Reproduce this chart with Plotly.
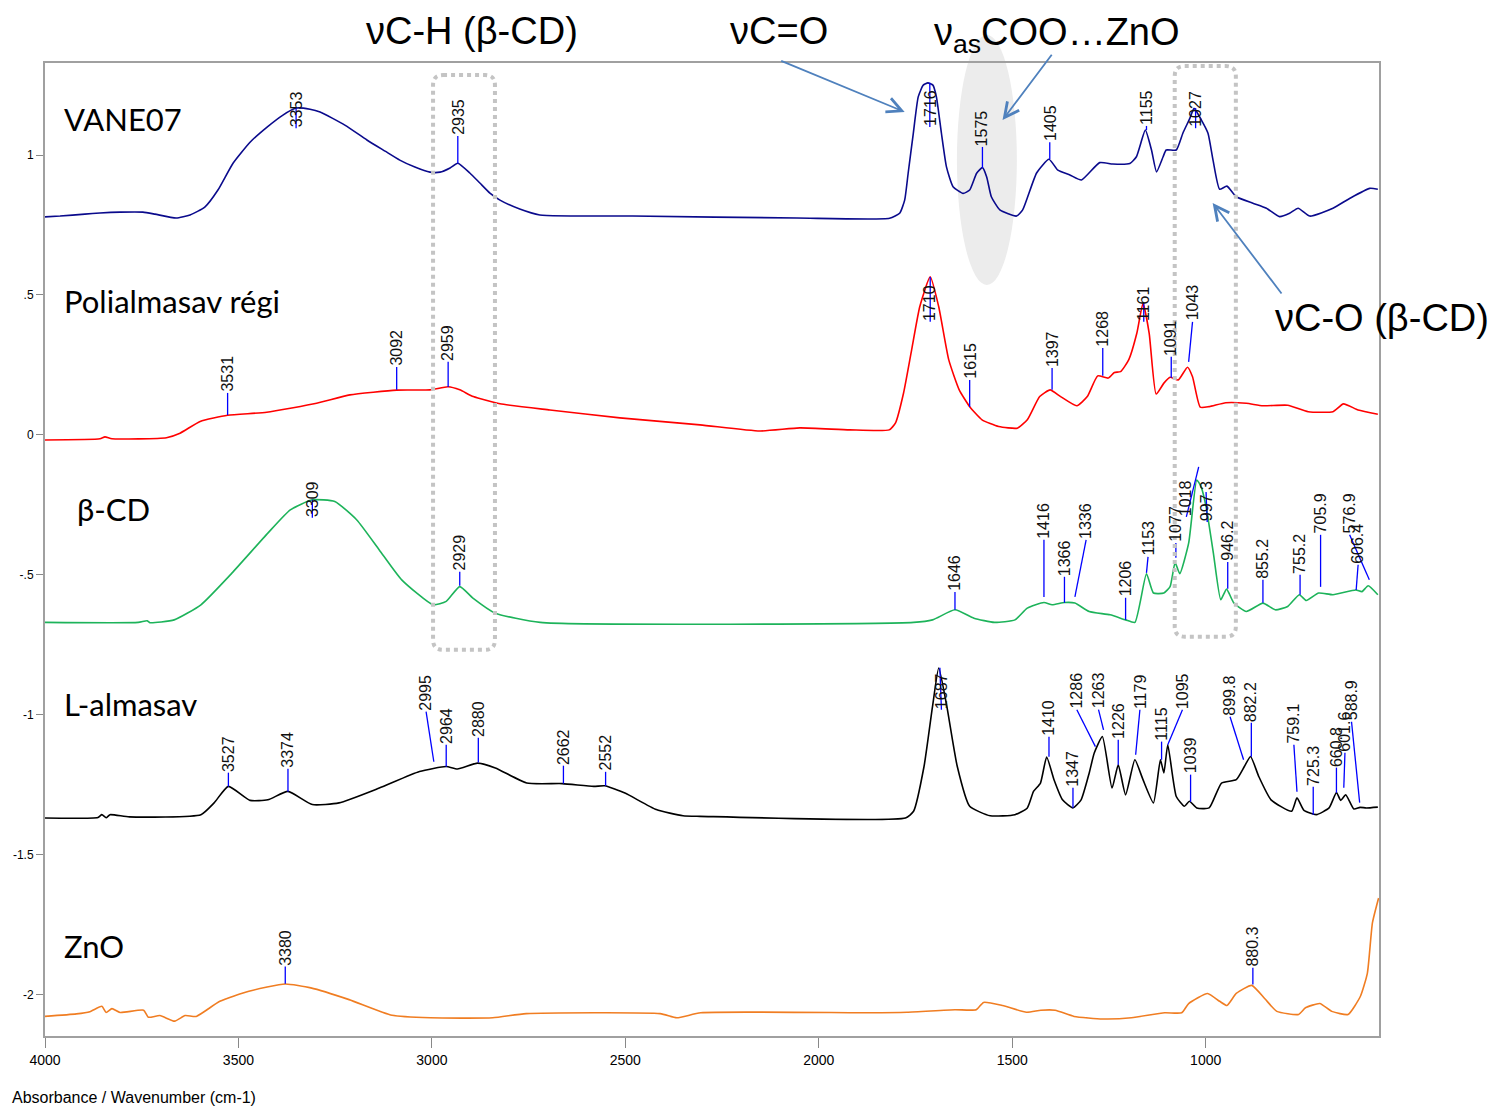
import plotly.graph_objects as go

# ---------------- data (wavenumber cm-1, absorbance) ----------------
vane_x = [4000,3961,3897,3858,3806,3747,3716,3661,3625,3587,3553,3514,3470,3426,3385,3351,3315,3289,3225,3168,
          3121,3083,3044,3005,2979,2953,2933,2902,2876,2850,2824,2773,2721,2481,2057,1817,1791,1778,1769,1756,
          1743,1730,1718,1705,1696,1683,1670,1653,1627,1610,1592,1577,1566,1554,1532,1489,1473,1437,1405,1382,
          1351,1321,1274,1240,1196,1179,1156,1140,1127,1110,1102,1076,1059,1041,1030,1011,994,981,964,945,
          921,878,843,809,783,761,731,671,628,576,555]
vane_y = [0.779,0.782,0.789,0.793,0.796,0.796,0.789,0.775,0.786,0.814,0.875,0.971,1.046,1.100,1.143,1.168,1.164,1.154,1.107,1.054,
          1.014,0.982,0.957,0.939,0.939,0.954,0.971,0.936,0.900,0.864,0.839,0.807,0.786,0.782,0.775,0.774,0.792,0.839,0.935,1.074,
          1.208,1.250,1.258,1.250,1.208,1.078,0.958,0.887,0.863,0.875,0.935,0.955,0.922,0.851,0.804,0.782,0.804,0.936,0.985,0.946,
          0.929,0.911,0.973,0.968,0.970,0.994,1.089,1.018,0.940,0.994,1.018,1.018,1.078,1.131,1.167,1.125,1.078,0.982,0.878,0.889,
          0.851,0.828,0.810,0.780,0.792,0.810,0.782,0.810,0.845,0.881,0.878]

poli_x = [4000,3858,3845,3827,3686,3651,3599,3528,3427,3298,3212,3091,3005,2958,2928,2893,2824,2695,2514,2307,
          2152,2049,1920,1818,1802,1781,1760,1739,1712,1690,1664,1637,1610,1578,1535,1487,1461,1429,1402,1375,
          1333,1306,1279,1252,1236,1220,1199,1178,1162,1146,1128,1108,1092,1071,1047,1034,1014,991,948,895,
          852,788,735,671,644,606,555]
poli_y = [-0.018,-0.014,-0.007,-0.014,-0.010,0.006,0.048,0.070,0.081,0.113,0.143,0.160,0.161,0.172,0.161,0.137,0.111,0.089,0.061,0.036,
          0.014,0.025,0.018,0.018,0.042,0.149,0.304,0.458,0.565,0.458,0.268,0.161,0.101,0.054,0.030,0.024,0.054,0.137,0.161,0.137,
          0.104,0.137,0.211,0.203,0.223,0.226,0.268,0.363,0.470,0.363,0.146,0.185,0.206,0.196,0.242,0.208,0.099,0.101,0.115,0.113,
          0.104,0.106,0.083,0.083,0.111,0.089,0.074]

bcd_x = [4000,3759,3736,3729,3666,3597,3517,3424,3366,3309,3251,3194,3136,3078,2997,2963,2928,2894,2836,2720,
         1755,1706,1648,1599,1546,1493,1461,1418,1397,1365,1338,1301,1247,1207,1183,1153,1135,1108,1092,1079,
         1067,1044,1023,1012,999,980,961,946,927,895,852,820,788,758,740,708,671,612,596,580,555]
bcd_y = [-0.670,-0.670,-0.664,-0.671,-0.661,-0.607,-0.494,-0.351,-0.268,-0.232,-0.238,-0.304,-0.411,-0.518,-0.607,-0.595,-0.542,-0.583,-0.637,-0.670,
         -0.670,-0.661,-0.625,-0.655,-0.670,-0.661,-0.619,-0.599,-0.607,-0.599,-0.601,-0.631,-0.643,-0.661,-0.670,-0.496,-0.565,-0.565,-0.542,-0.456,
         -0.496,-0.387,-0.161,-0.185,-0.256,-0.423,-0.589,-0.551,-0.601,-0.631,-0.601,-0.625,-0.613,-0.571,-0.592,-0.565,-0.571,-0.554,-0.560,-0.539,
         -0.571]

lalm_x = [4000,3863,3853,3842,3832,3782,3597,3563,3526,3470,3424,3372,3309,3240,3136,3032,2963,2934,2882,2836,
          2755,2663,2582,2553,2501,2420,2351,2307,1776,1755,1728,1706,1690,1669,1642,1610,1557,1493,1461,1445,
          1427,1411,1392,1370,1343,1322,1301,1288,1267,1242,1226,1207,1183,1162,1135,1117,1108,1098,1076,1055,
          1042,1023,991,959,921,900,884,863,831,778,764,746,714,681,662,651,638,617,601,585,555]
lalm_y = [-1.369,-1.367,-1.357,-1.368,-1.357,-1.365,-1.357,-1.315,-1.256,-1.306,-1.304,-1.274,-1.321,-1.315,-1.262,-1.203,-1.185,-1.194,-1.173,-1.190,
          -1.244,-1.246,-1.256,-1.254,-1.280,-1.339,-1.361,-1.363,-1.369,-1.345,-1.185,-0.970,-0.833,-0.970,-1.185,-1.327,-1.361,-1.357,-1.333,-1.274,
          -1.244,-1.151,-1.232,-1.304,-1.333,-1.304,-1.208,-1.137,-1.078,-1.262,-1.179,-1.286,-1.161,-1.232,-1.315,-1.161,-1.208,-1.107,-1.292,-1.327,
          -1.309,-1.333,-1.333,-1.244,-1.232,-1.185,-1.149,-1.220,-1.304,-1.345,-1.297,-1.342,-1.357,-1.333,-1.278,-1.306,-1.286,-1.337,-1.331,-1.333,
          -1.330]

zno_x = [4000,3919,3884,3853,3842,3827,3806,3745,3733,3703,3665,3638,3609,3548,3473,3379,3313,3214,3103,3004,
         2843,2756,2410,2367,2305,1870,1772,1648,1593,1574,1525,1463,1426,1389,1340,1266,1192,1106,1062,1044,
         995,964,945,921,881,847,816,760,742,705,674,632,600,582,569,553]
zno_y = [-2.078,-2.069,-2.061,-2.042,-2.064,-2.050,-2.064,-2.056,-2.081,-2.075,-2.095,-2.075,-2.078,-2.024,-1.988,-1.962,-1.976,-2.018,-2.074,-2.083,
         -2.083,-2.068,-2.068,-2.083,-2.065,-2.065,-2.063,-2.054,-2.054,-2.028,-2.039,-2.063,-2.056,-2.056,-2.078,-2.087,-2.083,-2.065,-2.065,-2.032,
         -1.996,-2.024,-2.039,-1.996,-1.967,-2.015,-2.060,-2.071,-2.047,-2.032,-2.060,-2.071,-2.006,-1.923,-1.744,-1.655]

# peak labels: (text, curve x, curve y, label x, label base y)
vane_peaks = [("3353", 3351, 1.168, 3351, 1.096), ("2935", 2933, 0.971, 2933, 1.068),
              ("1716", 1713, 1.258, 1713, 1.100), ("1575", 1577, 0.954, 1577, 1.029),
              ("1405", 1403, 0.986, 1403, 1.046), ("1155", 1153, 1.089, 1153, 1.104),
              ("1027", 1026, 1.168, 1026, 1.096)]
poli_peaks = [("3531", 3528, 0.071, 3528, 0.150), ("3092", 3091, 0.161, 3091, 0.243),
              ("2959", 2958, 0.171, 2958, 0.261), ("1710", 1712, 0.564, 1712, 0.404),
              ("1615", 1610, 0.100, 1610, 0.196), ("1397", 1397, 0.161, 1397, 0.239),
              ("1268", 1266, 0.211, 1266, 0.311), ("1161", 1160, 0.471, 1160, 0.404),
              ("1091", 1089, 0.204, 1089, 0.279), ("1043", 1044, 0.261, 1034, 0.404)]
bcd_peaks = [("3309", 3309, -0.232, 3309, -0.296), ("2929", 2928, -0.539, 2928, -0.489),
             ("1646", 1648, -0.625, 1648, -0.561), ("1416", 1418, -0.579, 1418, -0.375),
             ("1366", 1365, -0.600, 1365, -0.507), ("1336", 1338, -0.579, 1309, -0.375),
             ("1206", 1207, -0.661, 1207, -0.582), ("1153", 1153, -0.493, 1149, -0.436),
             ("1077", 1077, -0.439, 1077, -0.386), ("1018", 1018, -0.114, 1050, -0.293),
             ("997.3", 999, -0.204, 996, -0.311), ("946.2", 943, -0.550, 943, -0.454),
             ("855.2", 852, -0.600, 852, -0.518), ("755.2", 756, -0.571, 756, -0.500),
             ("705.9", 703, -0.543, 703, -0.357), ("576.9", 577, -0.518, 628, -0.357),
             ("606.4", 611, -0.554, 606, -0.464)]
lalm_peaks = [("3527", 3526, -1.257, 3526, -1.207), ("3374", 3372, -1.275, 3372, -1.193),
              ("2995", 2995, -1.168, 3015, -0.989), ("2964", 2963, -1.186, 2963, -1.107),
              ("2880", 2880, -1.171, 2880, -1.082), ("2662", 2660, -1.246, 2660, -1.182),
              ("2552", 2551, -1.254, 2551, -1.204), ("1687", 1687, -0.832, 1683, -0.982),
              ("1410", 1405, -1.150, 1405, -1.079), ("1347", 1343, -1.332, 1343, -1.261),
              ("1286", 1285, -1.114, 1333, -0.982), ("1263", 1264, -1.054, 1277, -0.982),
              ("1226", 1226, -1.179, 1226, -1.089), ("1179", 1181, -1.143, 1170, -0.982),
              ("1115", 1114, -1.161, 1114, -1.096), ("1095", 1098, -1.107, 1060, -0.982),
              ("1039", 1039, -1.311, 1039, -1.214), ("899.8", 902, -1.161, 937, -1.007),
              ("882.2", 882, -1.150, 882, -1.029), ("759.1", 764, -1.275, 772, -1.107),
              ("725.3", 722, -1.357, 722, -1.257), ("660.8", 662, -1.279, 662, -1.189),
              ("601.6", 643, -1.261, 640, -1.136), ("588.9", 602, -1.314, 623, -1.025)]
zno_peaks = [("3380", 3379, -1.961, 3379, -1.900), ("880.3", 878, -1.964, 878, -1.904)]

series_names = ["VANE07", "Polialmasav régi", "β-CD", "L-almasav", "ZnO"]
series_colors = ["#0a0a8c", "#ff0000", "#1db35a", "#000000", "#f07d22"]
name_pos = [(3956, 1.129), (3956, 0.479), (3922, -0.264), (3956, -0.961), (3956, -1.825)]

x_ticks = [4000, 3500, 3000, 2500, 2000, 1500, 1000]
y_ticks = [1, 0.5, 0, -0.5, -1, -1.5, -2]
y_ticktext = ["1", ".5", "0", "-.5", "-1", "-1.5", "-2"]

XR = [4000, 552]
YR = [-2.148, 1.329]

SANS = "Liberation Sans, Arial, sans-serif"


def xp(v):
    return (v - XR[0]) / (XR[1] - XR[0])


def yp(v):
    return (v - YR[0]) / (YR[1] - YR[0])


fig = go.Figure()
xs_all = [vane_x, poli_x, bcd_x, lalm_x, zno_x]
ys_all = [vane_y, poli_y, bcd_y, lalm_y, zno_y]
peaks_all = [vane_peaks, poli_peaks, bcd_peaks, lalm_peaks, zno_peaks]

for xs, ys, name, col in zip(xs_all, ys_all, series_names, series_colors):
    fig.add_trace(go.Scatter(x=xs, y=ys, mode="lines", name=name,
                             line=dict(color=col, width=1.6, shape="spline", smoothing=0.5),
                             hoverinfo="skip", showlegend=False))

# leader lines
lx, ly = [], []
for peaks in peaks_all:
    for t, px_, py_, bx, by in peaks:
        lx += [px_, bx, None]
        ly += [py_, by, None]
fig.add_trace(go.Scatter(x=lx, y=ly, mode="lines", line=dict(color="#0000ff", width=1.3),
                         hoverinfo="skip", showlegend=False))

annotations = []
for peaks in peaks_all:
    for t, px_, py_, bx, by in peaks:
        annotations.append(dict(x=xp(bx), y=yp(by), xref="paper", yref="paper", text=t, showarrow=False,
                                textangle=-90, xanchor="center", yanchor="bottom", borderpad=0,
                                font=dict(family=SANS, size=16, color="#111111")))

for name, (nx, ny) in zip(series_names, name_pos):
    annotations.append(dict(x=xp(nx), y=yp(ny), xref="paper", yref="paper", text=name, showarrow=False,
                            xanchor="left", yanchor="middle",
                            font=dict(family="Lato, Open Sans, sans-serif", size=31, color="#000000")))

# band annotations
big = dict(family=SANS, size=38, color="#000000")
for txt, bx, by in [("νC-H (β-CD)", 2897, 1.443), ("νC=O", 2103, 1.443),
                    ("ν<sub>as</sub>COO…ZnO", 1385, 1.430), ("νC-O (β-CD)", 545, 0.418)]:
    annotations.append(dict(x=xp(bx), y=yp(by), xref="paper", yref="paper", text=txt, showarrow=False,
                            xanchor="center", yanchor="middle", font=big))

# arrows (head inside the axes, tail given in data units)
arrow_col = "#4f81bd"
for (hx, hy, tx, ty) in [(1778, 1.154, 2101, 1.339), (1525, 1.125, 1395, 1.364), (982, 0.829, 801, 0.500)]:
    annotations.append(dict(x=hx, y=hy, ax=tx, ay=ty, xref="x", yref="y", axref="x", ayref="y",
                            text="", showarrow=True, arrowhead=5, arrowsize=1.6, arrowwidth=1.8,
                            arrowcolor=arrow_col))

annotations.append(dict(x=xp(4090), y=yp(-2.368), xref="paper", yref="paper",
                        text="Absorbance / Wavenumber (cm-1)",
                        showarrow=False, xanchor="left", yanchor="middle",
                        font=dict(family=SANS, size=16, color="#000000")))


def rounded_box(x0, x1, y0, y1, r_px=10):
    # box given in data units, drawn in paper units
    a, b = xp(x0), xp(x1)
    c, d = yp(y0), yp(y1)
    left, right = min(a, b), max(a, b)
    bot, top = min(c, d), max(c, d)
    rx = r_px / 1334.0
    ry = r_px / 973.5
    return (f"M{left+rx},{top} L{right-rx},{top} Q{right},{top} {right},{top-ry} "
            f"L{right},{bot+ry} Q{right},{bot} {right-rx},{bot} L{left+rx},{bot} "
            f"Q{left},{bot} {left},{bot+ry} L{left},{top-ry} Q{left},{top} {left+rx},{top} Z")


shapes = [
    dict(type="circle", xref="paper", yref="paper", x0=xp(1643), x1=xp(1488), y0=yp(0.536), y1=yp(1.429),
         fillcolor="#ececec", line=dict(width=0), layer="below"),
    dict(type="path", xref="paper", yref="paper", path=rounded_box(2997, 2837, -0.768, 1.286),
         line=dict(color="#c4c4c4", width=4, dash="dot"), layer="above"),
    dict(type="path", xref="paper", yref="paper", path=rounded_box(1080, 922, -0.721, 1.318),
         line=dict(color="#c4c4c4", width=4, dash="dot"), layer="above"),
]

fig.update_layout(
    width=1490, height=1102,
    margin=dict(l=37, r=119, t=55, b=74, autoexpand=False),
    paper_bgcolor="white", plot_bgcolor="rgba(0,0,0,0)",
    showlegend=False,
    annotations=annotations, shapes=shapes,
    xaxis=dict(range=XR, tickvals=x_ticks, ticks="outside", ticklen=10, tickcolor="#888888",
               automargin=False,
               showgrid=False, zeroline=False, showline=True, mirror=True, linecolor="#a0a0a0", linewidth=2,
               tickfont=dict(family=SANS, size=14, color="#000000")),
    yaxis=dict(range=YR, tickvals=y_ticks, ticktext=y_ticktext, ticks="outside", ticklen=7,
               automargin=False,
               tickcolor="#888888", showgrid=False, zeroline=False, showline=True, mirror=True,
               linecolor="#a0a0a0", linewidth=2, tickfont=dict(family=SANS, size=12, color="#000000")),
)

fig.write_html("out.html", config={"displayModeBar": False})
